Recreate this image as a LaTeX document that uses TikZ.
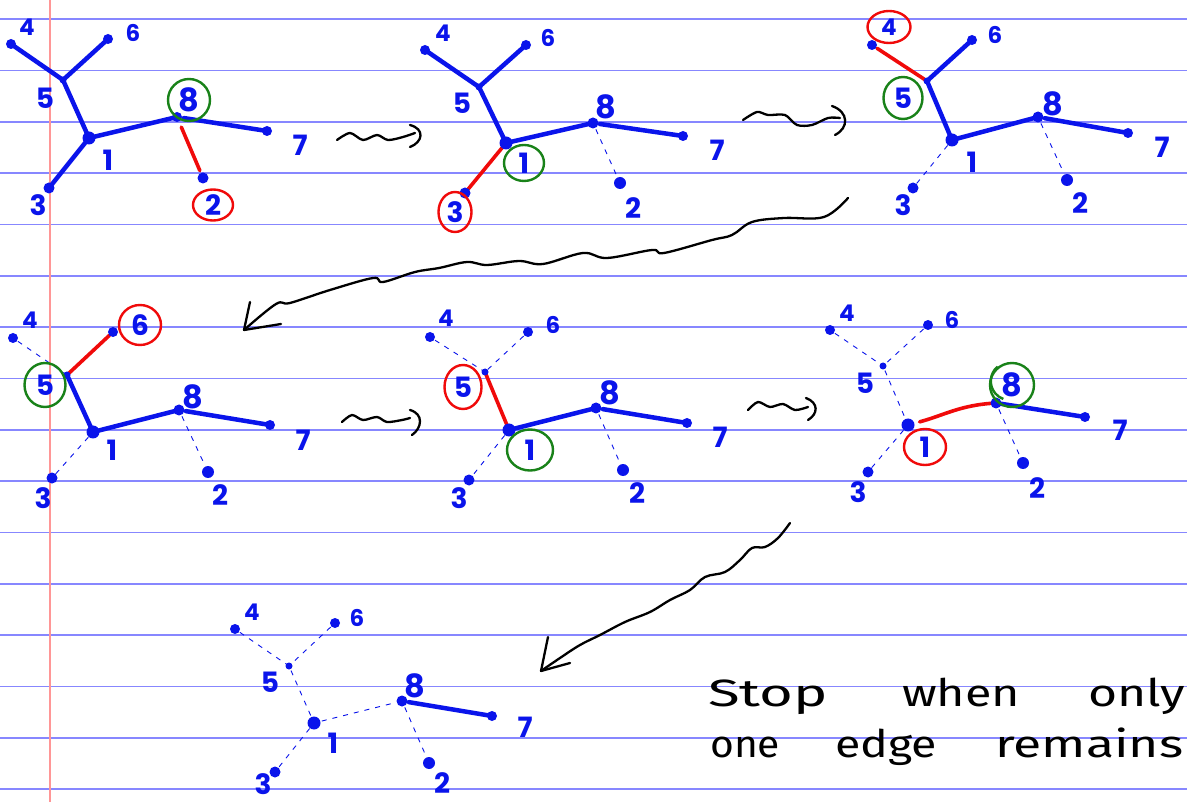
\documentclass[tikz,border=0pt]{standalone}
\usepackage{fontspec}
\newfontfamily\digitfont{Poppins}
\newfontfamily\handfont{Fira Sans}
\usetikzlibrary{shapes.geometric}

\pgfdeclarelayer{paper}
\pgfdeclarelayer{ink}
\pgfsetlayers{paper,ink,main}

\definecolor{penblue}{RGB}{10,20,235}
\definecolor{pengreen}{RGB}{25,130,25}
\definecolor{penred}{RGB}{240,10,10}
\definecolor{rulecol}{RGB}{135,135,255}
\definecolor{margincol}{RGB}{255,150,150}

% one handwritten word, stretched to a given width
\newcommand\handword[2]{\resizebox{#1}{\height}{\handfont\fontsize{38}{38}\selectfont #2}}

\tikzset{
  vtx/.style={circle,fill=penblue,inner sep=0pt,minimum size=#1},
  vtx/.default=10pt,
  num/.style={text=penblue,inner sep=0pt,font=\digitfont\bfseries\fontsize{28}{28}\selectfont},
  numsm/.style={num,font=\digitfont\bfseries\fontsize{23}{23}\selectfont},
  numbig/.style={num,font=\digitfont\bfseries\fontsize{32}{32}\selectfont},
  ring/.style={draw=#1,line width=2.4pt,ellipse,inner sep=0pt},
  ink/.style={penblue,line width=4.5pt,line cap=round},
  redink/.style={penred,line width=3.6pt,line cap=round},
  faint/.style={penblue,line width=0.9pt,dash pattern=on 5pt off 6pt},
  squiggle/.style={black,line width=2.3pt,line cap=round,line join=round},
  word/.style={anchor=base west,inner sep=0pt}
}

\begin{document}
\begin{tikzpicture}[x=1pt,y=-1pt]
\useasboundingbox (0,0) rectangle (1187,802);

% ruled notebook paper
\begin{pgfonlayer}{paper}
  \fill[white] (0,0) rectangle (1187,802);
  \foreach \k in {0,...,15}
    \draw[rulecol,line width=1.6pt] (0,19.3+51.33*\k) -- (1187,19.3+51.33*\k);
  \draw[margincol,line width=1.4pt] (50,0) -- (50,802);
\end{pgfonlayer}

% ---------- tree A : edge 8-2 removed ----------
\node[vtx] (a4) at (11,44) {};
\node[vtx] (a6) at (108,39) {};
\node[vtx=7pt] (a5) at (63,80) {};
\node[vtx=13pt] (a1) at (89,138) {};
\node[vtx] (a8) at (177,117) {};
\node[vtx] (a7) at (267,131) {};
\node[vtx=11pt] (a3) at (49,188) {};
\node[vtx=11pt] (a2) at (203,178) {};
\node[numsm] (a4l) at (27,27) {4};
\node[numsm] (a6l) at (133,33) {6};
\node[num] (a5l) at (45,98) {5};
\node[num] (a1l) at (108,160) {1};
\node[numbig,ring=pengreen,minimum width=42pt,minimum height=42pt] (a8l) at (189,100) {8};
\node[num] (a7l) at (300,145) {7};
\node[num] (a3l) at (38,205) {3};
\node[num,ring=penred,minimum width=40pt,minimum height=31pt] (a2l) at (213,205) {2};
\begin{pgfonlayer}{ink}
  \draw[ink] (a4.center) -- (a5.center) -- (a1.center);
  \draw[ink] (a6.center) -- (a5.center);
  \draw[ink] (a3.center) -- (a1.center) -- (a8.center);
  \draw[ink,shorten <=7pt] (a8.center) -- (a7.center);
  \draw[redink,shorten <=11pt,shorten >=8pt] (a8.center) -- (a2.center);
\end{pgfonlayer}

% ---------- tree B : edge 1-3 removed ----------
\node[vtx] (b4) at (425,50) {};
\node[vtx] (b6) at (526,45) {};
\node[vtx=7pt] (b5) at (479,87) {};
\node[vtx=13pt] (b1) at (506,143) {};
\node[vtx=11pt] (b8) at (593,123) {};
\node[vtx] (b7) at (683,136) {};
\node[vtx=11pt] (b3) at (465,193) {};
\node[vtx=12pt] (b2) at (620,183) {};
\node[numsm] (b4l) at (443,33) {4};
\node[numsm] (b6l) at (548,38) {6};
\node[num] (b5l) at (462,103) {5};
\node[num,ring=pengreen,minimum width=40pt,minimum height=36pt] (b1l) at (524,163) {1};
\node[numbig] (b8l) at (606,107) {8};
\node[num] (b7l) at (717,150) {7};
\node[num,ring=penred,minimum width=33pt,minimum height=40pt] (b3l) at (455,212) {3};
\node[num] (b2l) at (633,208) {2};
\begin{pgfonlayer}{ink}
  \draw[ink] (b4.center) -- (b5.center) -- (b1.center) -- (b8.center);
  \draw[ink] (b6.center) -- (b5.center);
  \draw[ink,shorten <=7pt] (b8.center) -- (b7.center);
  \draw[faint,shorten <=7pt,shorten >=8pt] (b8.center) -- (b2.center);
  \draw[redink,shorten >=4pt] (b1.center) -- (b3.center);
\end{pgfonlayer}

% ---------- tree C : edge 4-5 removed ----------
\node[vtx] (c4) at (872,45) {};
\node[vtx] (c6) at (972,40) {};
\node[vtx=7pt] (c5) at (927,81) {};
\node[vtx=13pt] (c1) at (952,140) {};
\node[vtx=11pt] (c8) at (1038,117) {};
\node[vtx] (c7) at (1128,133) {};
\node[vtx=11pt] (c3) at (913,188) {};
\node[vtx=12pt] (c2) at (1067,180) {};
\node[numsm,ring=penred,minimum width=43pt,minimum height=32pt] (c4l) at (889,27) {4};
\node[numsm] (c6l) at (995,35) {6};
\node[num,ring=pengreen,minimum width=39pt,minimum height=42pt] (c5l) at (903,98) {5};
\node[num] (c1l) at (972,162) {1};
\node[numbig] (c8l) at (1053,104) {8};
\node[num] (c7l) at (1162,147) {7};
\node[num] (c3l) at (903,205) {3};
\node[num] (c2l) at (1080,203) {2};
\begin{pgfonlayer}{ink}
  \draw[ink] (c6.center) -- (c5.center) -- (c1.center) -- (c8.center);
  \draw[ink,shorten <=7pt] (c8.center) -- (c7.center);
  \draw[faint,shorten <=7pt] (c1.center) -- (c3.center);
  \draw[faint,shorten <=7pt,shorten >=8pt] (c8.center) -- (c2.center);
  \draw[redink,shorten <=6pt] (c4.center) -- (c5.center);
\end{pgfonlayer}

% ---------- tree D : edge 5-6 removed ----------
\node[vtx] (d4) at (13,338) {};
\node[vtx] (d6) at (113,332) {};
\node[vtx=7pt] (d5) at (67,375) {};
\node[vtx=13pt] (d1) at (93,432) {};
\node[vtx=11pt] (d8) at (179,410) {};
\node[vtx] (d7) at (270,425) {};
\node[vtx=11pt] (d3) at (52,478) {};
\node[vtx=12pt] (d2) at (208,472) {};
\node[numsm] (d4l) at (30,320) {4};
\node[num,ring=penred,minimum width=42pt,minimum height=40pt] (d6l) at (140,325) {6};
\node[num,ring=pengreen,minimum width=41pt,minimum height=44pt] (d5l) at (45,385) {5};
\node[num] (d1l) at (112,450) {1};
\node[numbig] (d8l) at (193,397) {8};
\node[num] (d7l) at (303,440) {7};
\node[num] (d3l) at (43,498) {3};
\node[num] (d2l) at (220,495) {2};
\begin{pgfonlayer}{ink}
  \draw[ink] (d5.center) -- (d1.center) -- (d8.center);
  \draw[ink,shorten <=7pt] (d8.center) -- (d7.center);
  \draw[faint,shorten <=6pt] (d4.center) -- (d5.center);
  \draw[faint,shorten <=7pt] (d1.center) -- (d3.center);
  \draw[faint,shorten <=7pt,shorten >=8pt] (d8.center) -- (d2.center);
  \draw[redink,shorten >=5pt] (d5.center) -- (d6.center);
\end{pgfonlayer}

% ---------- tree E : edge 5-1 removed ----------
\node[vtx] (e4) at (430,337) {};
\node[vtx] (e6) at (528,332) {};
\node[vtx=7pt] (e5) at (485,372) {};
\node[vtx=13pt] (e1) at (509,430) {};
\node[vtx=11pt] (e8) at (596,408) {};
\node[vtx] (e7) at (687,423) {};
\node[vtx=11pt] (e3) at (469,480) {};
\node[vtx=12pt] (e2) at (623,470) {};
\node[numsm] (e4l) at (446,318) {4};
\node[numsm] (e6l) at (553,325) {6};
\node[num,ring=penred,minimum width=37pt,minimum height=44pt] (e5l) at (463,387) {5};
\node[num,ring=pengreen,minimum width=46pt,minimum height=41pt] (e1l) at (530,450) {1};
\node[numbig] (e8l) at (610,393) {8};
\node[num] (e7l) at (720,437) {7};
\node[num] (e3l) at (459,498) {3};
\node[num] (e2l) at (637,493) {2};
\begin{pgfonlayer}{ink}
  \draw[ink] (e1.center) -- (e8.center);
  \draw[ink,shorten <=7pt] (e8.center) -- (e7.center);
  \draw[faint,shorten <=6pt] (e4.center) -- (e5.center);
  \draw[faint,shorten <=6pt] (e6.center) -- (e5.center);
  \draw[faint,shorten <=7pt] (e1.center) -- (e3.center);
  \draw[faint,shorten <=7pt,shorten >=8pt] (e8.center) -- (e2.center);
  \draw[redink] (e5.center) -- (e1.center);
\end{pgfonlayer}

% ---------- tree F : edge 1-8 removed ----------
\node[vtx] (f4) at (830,330) {};
\node[vtx] (f6) at (928,325) {};
\node[vtx=7pt] (f5) at (883,366) {};
\node[vtx=13pt] (f1) at (908,425) {};
\node[vtx=11pt] (f8) at (996,403) {};
\node[vtx] (f7) at (1085,417) {};
\node[vtx=11pt] (f3) at (868,472) {};
\node[vtx=12pt] (f2) at (1023,463) {};
\node[numsm] (f4l) at (847,313) {4};
\node[numsm] (f6l) at (952,320) {6};
\node[num] (f5l) at (865,383) {5};
\node[num,ring=penred,minimum width=42pt,minimum height=36pt] (f1l) at (925,447) {1};
\node[numbig,ring=pengreen,minimum width=44pt,minimum height=44pt] (f8l) at (1012,385) {8};
\draw[pengreen,line width=2.4pt] (f8l.north west) ++(2,-2) arc[start angle=130,end angle=250,radius=19pt];
\node[num] (f7l) at (1120,430) {7};
\node[num] (f3l) at (858,492) {3};
\node[num] (f2l) at (1037,488) {2};
\begin{pgfonlayer}{ink}
  \draw[ink,shorten <=4pt] (f8.center) -- (f7.center);
  \draw[faint,shorten <=6pt] (f4.center) -- (f5.center);
  \draw[faint,shorten <=6pt] (f6.center) -- (f5.center);
  \draw[faint,shorten <=5pt,shorten >=7pt] (f5.center) -- (f1.center);
  \draw[faint,shorten <=7pt] (f1.center) -- (f3.center);
  \draw[faint,shorten <=7pt,shorten >=8pt] (f8.center) -- (f2.center);
  \draw[redink,shorten <=12pt] (f1.center) .. controls (945,415) and (960,405) .. (f8.center);
\end{pgfonlayer}

% ---------- tree G : only edge 8-7 left ----------
\node[vtx] (g4) at (235,629) {};
\node[vtx] (g6) at (335,623) {};
\node[vtx=7pt] (g5) at (289,666) {};
\node[vtx=13pt] (g1) at (314,723) {};
\node[vtx=11pt] (g8) at (402,701) {};
\node[vtx] (g7) at (492,716) {};
\node[vtx=11pt] (g3) at (275,772) {};
\node[vtx=12pt] (g2) at (429,763) {};
\node[numsm] (g4l) at (252,612) {4};
\node[numsm] (g6l) at (357,618) {6};
\node[num] (g5l) at (270,682) {5};
\node[num] (g1l) at (333,743) {1};
\node[numbig] (g8l) at (415,686) {8};
\node[num] (g7l) at (525,727) {7};
\node[num] (g3l) at (263,784) {3};
\node[num] (g2l) at (442,783) {2};
\begin{pgfonlayer}{ink}
  \draw[ink,shorten <=7pt] (g8.center) -- (g7.center);
  \draw[faint,shorten <=6pt] (g4.center) -- (g5.center);
  \draw[faint,shorten <=6pt] (g6.center) -- (g5.center);
  \draw[faint,shorten <=5pt,shorten >=7pt] (g5.center) -- (g1.center);
  \draw[faint,shorten <=7pt] (g1.center) -- (g3.center);
  \draw[faint,shorten <=8pt,shorten >=6pt] (g1.center) -- (g8.center);
  \draw[faint,shorten <=7pt,shorten >=8pt] (g8.center) -- (g2.center);
\end{pgfonlayer}

% ---------- wavy step arrows ----------
\draw[squiggle] plot[smooth] coordinates {(337,140) (350,133) (363,140) (377,135) (388,140) (403,137) (415,133)};
\draw[squiggle] (410,125) .. controls (425,129) and (423,142) .. (410,147);
\draw[squiggle] plot[smooth] coordinates {(743,120) (757,112) (768,115) (785,115) (797,125) (812,125) (828,118) (840,118)};
\draw[squiggle] (832,106) .. controls (849,112) and (849,128) .. (835,135);
\draw[squiggle] plot[smooth] coordinates {(342,422) (352,415) (363,420) (377,417) (387,422) (402,420) (410,418)};
\draw[squiggle] (410,410) .. controls (424,414) and (422,428) .. (412,435);
\draw[squiggle] plot[smooth] coordinates {(748,410) (758,402) (770,407) (783,404) (795,410) (808,407)};
\draw[squiggle] (806,398) .. controls (819,403) and (818,414) .. (808,420);

% long arrow from the first row down to the second
\draw[squiggle] plot[smooth,tension=0.6] coordinates {(848,198) (824,217) (784,218) (752,222) (732,235) (712,240) (664,253) (652,250) (607,258) (583,253) (543,264) (519,261) (487,265) (467,262) (439,268) (415,272) (383,282) (373,278) (330,290) (290,303) (276,304) (244,330)};
\draw[squiggle] (250,302) -- (244,330) -- (281,324);

% long arrow from the second row down to the last tree
\draw[squiggle] plot[smooth,tension=0.6] coordinates {(790,523) (778,538) (765,547) (752,548) (740,560) (725,572) (705,577) (690,590) (670,600) (650,612) (625,622) (600,635) (580,645) (560,658) (541,671)};
\draw[squiggle] (548,637) -- (541,671) -- (570,663);

% closing remark
\node[word] (w1) at (708,706) {\handword{120pt}{Stop}};
\node[word] (w2) at (902,706) {\handword{118pt}{when}};
\node[word] (w3) at (1088,706) {\handword{97pt}{only}};
\node[word] (w4) at (710,757) {\handword{70pt}{one}};
\node[word] (w5) at (835,757) {\handword{102pt}{edge}};
\node[word] (w6) at (995,757) {\handword{188pt}{remains}};
\end{tikzpicture}
\end{document}
